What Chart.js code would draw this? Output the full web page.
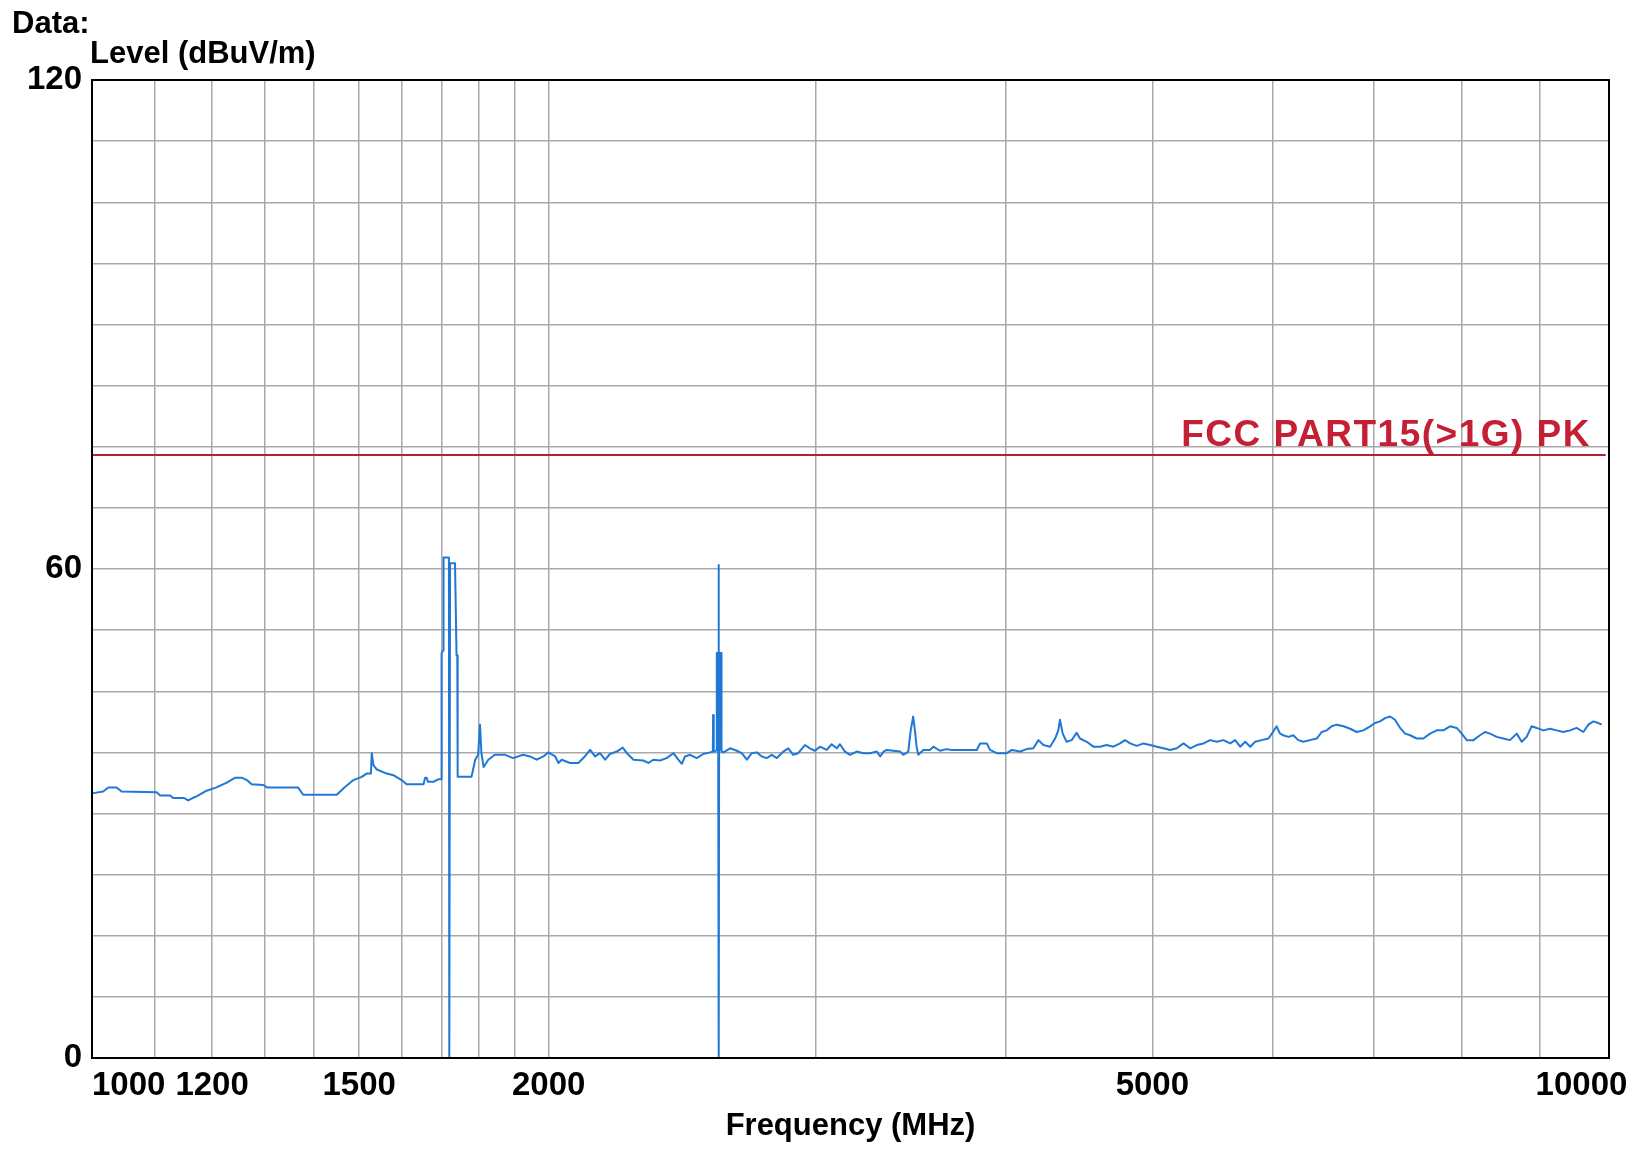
<!DOCTYPE html>
<html>
<head>
<meta charset="utf-8">
<script src="https://cdn.jsdelivr.net/npm/chart.js@4.4.1/dist/chart.umd.min.js"></script>
<style>
  html, body { margin: 0; padding: 0; background: #ffffff; }
  #wrap { width: 1648px; height: 1149px; }
</style>
</head>
<body>
<div id="wrap"><canvas id="c" width="1648" height="1149"></canvas></div>
<script>
// ---- Data ----
const freqMHz = [
  1000, 1002, 1017, 1025, 1038, 1046, 1103, 1109, 1126, 1131, 1150, 1157, 1165, 1172, 1190, 1208, 1227, 1243, 1255, 1265,
  1274, 1297, 1304, 1367, 1378, 1450, 1465, 1487, 1506, 1517, 1527, 1529, 1533, 1541, 1564, 1580, 1600, 1612, 1654, 1658,
  1662, 1665, 1680, 1691, 1699,
  1700, 1704, 1705, 1719, 1720, 1721, 1722, 1735, 1739, 1741, 1742,
  1779, 1789, 1797, 1802, 1806, 1812, 1825, 1843, 1872, 1895,
  1924, 1944, 1964, 1984, 1999, 2020, 2030, 2040, 2066, 2092, 2108, 2130, 2146, 2162, 2179, 2195, 2218, 2238, 2252, 2275,
  2309, 2327, 2344, 2368, 2392, 2417, 2435, 2448, 2460, 2479, 2504, 2529, 2555,
  2566, 2567, 2569, 2570, 2576, 2580, 2581, 2582, 2583, 2584, 2585, 2586, 2587, 2588, 2589, 2590, 2591, 2592, 2593, 2594,
  2595, 2596, 2597, 2598, 2599, 2601,
  2608, 2634, 2661, 2681, 2702, 2722, 2743, 2764, 2785, 2806, 2828, 2856, 2877, 2899, 2921, 2951, 2973, 2996, 3019, 3050,
  3073, 3097, 3112, 3136, 3160, 3192, 3225, 3258, 3291, 3308, 3325,
  3341, 3409, 3426, 3452, 3465, 3478, 3487, 3496, 3505, 3532, 3568, 3586, 3622, 3659, 3687, 3734, 3830, 3850, 3889, 3908,
  3948, 4009, 4040, 4091, 4132, 4174, 4206, 4238, 4281, 4314, 4335, 4346, 4364, 4390, 4424, 4457, 4480, 4526, 4572, 4618,
  4665, 4713, 4761, 4797, 4834, 4883, 4933, 4983, 5034, 5085, 5137, 5189, 5242, 5295, 5349, 5404, 5458, 5514, 5570, 5627,
  5670, 5713, 5757, 5801, 5845, 5902, 5964, 6009, 6038, 6069, 6100, 6147, 6193, 6240, 6288, 6352, 6417, 6466, 6515, 6565,
  6615, 6683, 6751, 6819, 6888, 6959, 7011, 7064, 7118, 7173, 7227, 7283, 7338, 7394, 7469, 7545, 7621, 7699, 7777, 7856,
  7936, 7997, 8058, 8140, 8222, 8285, 8348, 8433, 8519, 8605, 8693, 8759, 8825, 8892, 8960, 9052, 9143, 9237, 9330, 9425,
  9521, 9618, 9692, 9766, 9840, 9890
];
const levelDbuV = [
  32.5, 32.5, 32.7, 33.2, 33.2, 32.7, 32.6, 32.2, 32.2, 31.9, 31.9, 31.6, 31.9, 32.1, 32.8, 33.2, 33.8, 34.4, 34.4, 34.1,
  33.6, 33.5, 33.2, 33.2, 32.3, 32.3, 33.1, 34.1, 34.5, 34.9, 34.9, 37.4, 35.9, 35.4, 34.9, 34.7, 34.1, 33.6, 33.6, 34.4,
  34.4, 33.9, 33.9, 34.2, 34.2,
  49.7, 50.0, 61.4, 61.4, 0, 0, 60.7, 60.7, 49.4, 49.4, 34.5,
  34.5, 36.6, 37.2, 40.9, 37.4, 35.7, 36.6, 37.2, 37.2, 36.8,
  37.2, 37.0, 36.6, 37.0, 37.5, 37.0, 36.2, 36.6, 36.2, 36.2, 36.8, 37.8, 37.0, 37.4, 36.6, 37.3, 37.6, 38.1, 37.4, 36.6,
  36.5, 36.2, 36.6, 36.5, 36.8, 37.4, 36.6, 36.1, 37.0, 37.2, 36.8, 37.3, 37.5,
  37.6, 42.1, 42.1, 37.6, 37.6, 37.8, 42.3, 49.7, 38.0, 49.7, 38.0, 49.7, 38.0, 49.7, 60.5, 0, 49.7, 38.0, 49.7, 38.0,
  49.7, 38.0, 49.7, 38.0, 49.7, 37.6,
  37.5, 38.0, 37.7, 37.4, 36.6, 37.4, 37.5, 37.0, 36.8, 37.2, 36.8, 37.6, 38.0, 37.2, 37.4, 38.4, 38.0, 37.7, 38.2, 37.8,
  38.5, 38.0, 38.5, 37.6, 37.2, 37.6, 37.4, 37.4, 37.6, 37.0, 37.6,
  37.8, 37.6, 37.2, 37.6, 40.2, 41.9, 40.2, 38.2, 37.2, 37.8, 37.8, 38.2, 37.7, 37.9, 37.8, 37.8, 37.8, 38.6, 38.6, 37.8,
  37.4, 37.4, 37.8, 37.6, 37.9, 38.0, 39.0, 38.4, 38.2, 39.2, 40.2, 41.5, 39.8, 38.8, 39.0, 39.9, 39.2, 38.8, 38.2, 38.2,
  38.4, 38.2, 38.6, 39.0, 38.6, 38.3, 38.6, 38.4, 38.2, 38.0, 37.8, 38.0, 38.6, 38.0, 38.4, 38.6, 39.0, 38.8, 39.0, 38.6,
  39.0, 38.2, 38.8, 38.2, 38.8, 39.0, 39.2, 40.1, 40.7, 39.8, 39.6, 39.4, 39.6, 39.0, 38.8, 39.0, 39.2, 40.0, 40.2, 40.7,
  40.9, 40.7, 40.4, 40.0, 40.2, 40.7, 41.1, 41.3, 41.7, 41.9, 41.5, 40.5, 39.8, 39.6, 39.2, 39.2, 39.8, 40.2, 40.2, 40.7,
  40.5, 39.8, 39.0, 39.0, 39.6, 40.0, 39.8, 39.4, 39.2, 39.0, 39.8, 38.8, 39.4, 40.7, 40.5, 40.2, 40.4, 40.2, 40.0, 40.2,
  40.5, 40.0, 40.9, 41.3, 41.1, 40.9
];
const limitFreq = [1000, 9950];
const limitLevel = [74, 74];
const limitName = 'FCC PART15(>1G) PK';

const xGridValues = [1000, 1100, 1200, 1300, 1400, 1500, 1600, 1700, 1800, 1900, 2000,
                     3000, 4000, 5000, 6000, 7000, 8000, 9000, 10000];
const xTickLabels = [1000, 1200, 1500, 2000, 5000, 10000];
const yTickLabels = [0, 60, 120];

// ---- Chart ----
const FONT = 'Liberation Sans, Arial, sans-serif';
const traceData = freqMHz.map((f, i) => ({ x: f, y: levelDbuV[i] }));
const limitData = limitFreq.map((f, i) => ({ x: f, y: limitLevel[i] }));

function xLabel(v) {
  const r = Math.round(v);
  if (!xTickLabels.includes(r)) return '';
  const s = String(r);
  // edge labels sit inside/beside the frame as in the reference
  if (r === xTickLabels[0]) return ' '.repeat(8) + s;
  if (r === xTickLabels[xTickLabels.length - 1]) return s + ' '.repeat(6);
  return s;
}

const textPlugin = {
  id: 'texts',
  afterDraw(chart) {
    const ctx = chart.ctx;
    const ys = chart.scales.y;
    const area = chart.chartArea;
    ctx.save();
    ctx.fillStyle = '#000';
    ctx.textAlign = 'left';
    ctx.textBaseline = 'alphabetic';
    ctx.font = 'bold 31px ' + FONT;
    ctx.fillText('Data:', 12, 33);
    ctx.fillText('Level (dBuV/m)', 90, 63);
    ctx.fillStyle = '#c41f35';
    ctx.font = 'bold 37px ' + FONT;
    ctx.letterSpacing = '1.5px';
    ctx.textAlign = 'right';
    ctx.fillText(limitName, area.right - 18, ys.getPixelForValue(limitLevel[0]) - 9);
    ctx.restore();
  }
};

new Chart(document.getElementById('c'), {
  type: 'line',
  data: {
    datasets: [
      {
        label: limitName,
        data: limitData,
        borderColor: '#b51f32',
        borderWidth: 2,
        pointRadius: 0,
        tension: 0
      },
      {
        label: 'Level',
        data: traceData,
        borderColor: '#1f78d6',
        borderWidth: 2,
        pointRadius: 0,
        tension: 0,
        borderJoinStyle: 'round'
      }
    ]
  },
  options: {
    responsive: false,
    devicePixelRatio: 1,
    animation: false,
    layout: { padding: { top: 80, right: 39, left: 0, bottom: 0 } },
    plugins: { legend: { display: false }, tooltip: { enabled: false }, title: { display: false } },
    scales: {
      x: {
        type: 'logarithmic',
        min: 1000,
        max: 10000,
        afterBuildTicks: (scale) => { scale.ticks = xGridValues.map(v => ({ value: v })); },
        afterFit: (scale) => { scale.height = 91; scale.paddingLeft = 0; scale.paddingRight = 0; },
        ticks: {
          autoSkip: false,
          maxRotation: 0,
          minRotation: 0,
          align: 'center',
          padding: 8,
          color: '#000',
          font: { family: FONT, weight: 'bold', size: 33 },
          callback: xLabel
        },
        grid: { color: '#a9a9a9', lineWidth: 1.5, drawTicks: false },
        border: { display: true, color: '#000', width: 2 },
        title: {
          display: true,
          text: 'Frequency (MHz)',
          color: '#000',
          font: { family: FONT, weight: 'bold', size: 31 },
          padding: { top: 0, bottom: 4 }
        }
      },
      y: {
        type: 'linear',
        min: 0,
        max: 120,
        afterFit: (scale) => { scale.width = 92; scale.paddingTop = 0; scale.paddingBottom = 0; },
        ticks: {
          stepSize: 7.5,
          autoSkip: false,
          padding: 10,
          color: '#000',
          font: { family: FONT, weight: 'bold', size: 33 },
          callback: (v) => yTickLabels.includes(v) ? String(v) : ''
        },
        grid: { color: '#a9a9a9', lineWidth: 1.5, drawTicks: false },
        border: { display: true, color: '#000', width: 2 }
      }
    }
  },
  plugins: [textPlugin, {
    id: 'frame',
    afterDatasetsDraw(chart) {
      const { ctx, chartArea: a } = chart;
      ctx.save();
      ctx.strokeStyle = '#000';
      ctx.lineWidth = 2;
      ctx.strokeRect(a.left, a.top, a.right - a.left, a.bottom - a.top);
      ctx.restore();
    }
  }]
});
</script>
</body>
</html>
